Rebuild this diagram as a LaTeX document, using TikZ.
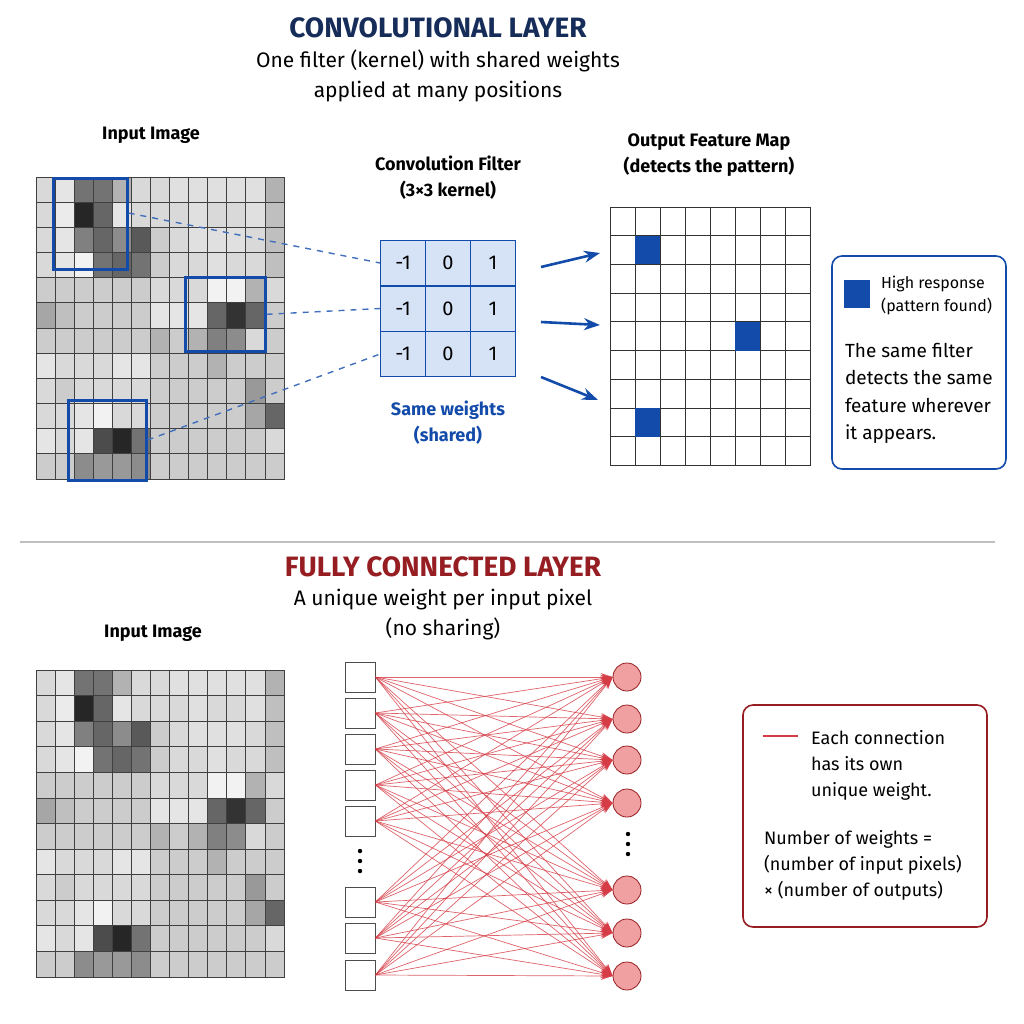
\documentclass[tikz,border=0pt]{standalone}
\usepackage{fontspec}
\setmainfont{Fira Sans}
\usetikzlibrary{arrows.meta,positioning}
\definecolor{navy}{RGB}{22,45,90}
\definecolor{kblue}{RGB}{18,75,170}
\definecolor{klight}{RGB}{214,226,245}
\definecolor{dred}{RGB}{150,30,35}
\definecolor{lred}{RGB}{214,60,70}
\definecolor{pinkfill}{RGB}{240,160,160}
\def\pixvals{{15,10,55,55,30,15,15,12,12,12,12,12,30},{15,8,85,60,10,15,15,15,12,15,15,12,25},{15,10,50,60,45,65,20,15,12,12,12,15,25},{15,10,5,55,60,55,20,15,15,12,15,15,25},{20,20,20,20,20,20,15,15,15,5,5,30,15},{35,25,20,20,20,20,10,10,10,60,80,60,20},{20,20,20,20,20,20,30,20,30,50,45,15,20},{10,15,15,15,10,10,20,20,20,30,20,20,20},{15,20,15,15,15,15,20,20,20,20,20,40,20},{15,15,10,5,15,15,20,20,20,20,20,35,60},{10,15,10,70,85,55,20,20,20,20,20,20,15},{20,20,45,40,40,45,20,20,20,20,20,20,20}}
% Syntax: \pixelgrid{x0}{y0}{cell width}{cell height}
\newcommand\pixelgrid[4]{%
  \foreach \row [count=\r from 0] in \pixvals {
    \foreach \v [count=\c from 0] in \row
      \draw[black!75,line width=0.4pt,fill=black!\v!white]
        ({#1+\c*#3},{#2+\r*#4}) rectangle ++(#3,#4);
  }}
\tikzset{
  title/.style={font=\bfseries\fontsize{14}{16}\selectfont},
  sub/.style={font=\fontsize{10.5}{15}\selectfont,align=center},
  lab/.style={font=\bfseries\fontsize{9}{13}\selectfont,align=center},
  hl/.style={draw=kblue,line width=1.3pt,anchor=north west,inner sep=0pt},
  link/.style={kblue!80,dashed,line width=0.7pt},
  kcell/.style={draw=kblue,fill=klight,minimum size=22.5pt,inner sep=0pt,font=\fontsize{10}{12}\selectfont},
  fc/.style={lred,line width=0.35pt,opacity=0.8,-{Stealth[length=6pt,width=4pt]}},
  inbox/.style={draw=black!70,fill=white,minimum size=15pt,inner sep=0pt},
  neuron/.style={circle,draw=dred,fill=pinkfill,minimum size=14pt,inner sep=0pt},
  vdots/.style={fill=black,circle,inner sep=0pt,minimum size=2.2pt},
}
\begin{document}
\begin{tikzpicture}[x=0.5pt,y=-0.5pt]
  \useasboundingbox[fill=white] (0,0) rectangle (1024,1024);

  % ---- convolutional part
  \node[title,text=navy] (ctitle) at (438,28) {CONVOLUTIONAL LAYER};
  \node[sub] (csub) at (438,76) {One filter (kernel) with shared weights\\applied at many positions};
  \node[lab] (cin) at (151,135) {Input Image};
  \pixelgrid{36}{177}{19.08}{25.17}
  \node[hl,minimum width=37pt,minimum height=45.5pt] (b1) at (52,177) {};
  \node[hl,minimum width=40pt,minimum height=37pt] (b2) at (184,276) {};
  \node[hl,minimum width=39pt,minimum height=40pt] (b3) at (67,399) {};

  \node[lab] (ktitle) at (448,178) {Convolution Filter\\(3×3 kernel)};
  \foreach \r [count=\i] in {-1,-1,-1}
    \foreach \val [count=\j] in {-1,0,1}
      \node[kcell] (k\i\j) at ({403+(\j-1)*45},{263+(\i-1)*45.5}) {\val};
  \node[lab,text=kblue] (kshared) at (448,423) {Same weights\\(shared)};
  \draw[link] (b1.east |- 0,213) -- (k11.west);
  \draw[link] (b2.east) -- (k21.west);
  \draw[link] (b3.east |- 0,440) -- (k31.west);

  \node[lab] (otitle) at (709,155) {Output Feature Map\\(detects the pattern)};
  \foreach \c in {0,...,7}
    \foreach \r in {0,...,8}
      \draw[black!80,line width=0.4pt] ({610+\c*25},{207+\r*28.7}) rectangle ++(25,28.7);
  \foreach \c/\r in {1/1,5/4,1/7}
    \fill[kblue] ({610+\c*25},{207+\r*28.7}) rectangle ++(25,28.7);
  \coordinate (s1) at (541,267);
  \coordinate (s2) at (541,322);
  \coordinate (s3) at (541,377);
  \coordinate (o1) at (600,253);
  \coordinate (o2) at (600,325);
  \coordinate (o3) at (598,400);
  \foreach \i in {1,2,3}
    \draw[kblue,line width=1.3pt,-{Stealth[length=8pt]}] (s\i) -- (o\i);

  \draw[kblue,line width=0.8pt,rounded corners=5pt] (832,256) rectangle (1006,469);
  \fill[kblue] (844,280) rectangle (870,308);
  \node[anchor=west,align=left,font=\fontsize{8}{11.5}\selectfont] (hresp) at (874,295) {High response\\(pattern found)};
  \node[anchor=north west,align=left,font=\fontsize{9.5}{13.7}\selectfont] (same) at (838,336) {The same filter\\detects the same\\feature wherever\\it appears.};

  \draw[black!25,line width=0.8pt] (20,542) -- (995,542);

  % ---- fully connected part
  \node[title,text=dred] (ftitle) at (443,567) {FULLY CONNECTED LAYER};
  \node[sub] (fsub) at (443,615) {A unique weight per input pixel\\(no sharing)};
  \node[lab] (fin) at (153,633) {Input Image};
  \pixelgrid{36}{670}{19.08}{25.58}

  \foreach \y [count=\i] in {677,713,749,785,821,902,938,975}
    \node[inbox] (in\i) at (360,\y) {};
  \foreach \y [count=\j] in {677,719,760,803,890,933,976}
    \node[neuron] (out\j) at (627,\y) {};
  \foreach \i in {1,...,8}
    \foreach \j in {1,...,7}
      \draw[fc] (in\i.east) -- (out\j.west);
  \foreach \y in {851,861,871}
    \node[vdots] at (360,\y) {};
  \foreach \y in {834,844,854}
    \node[vdots] at (628,\y) {};

  \draw[dred,line width=0.8pt,rounded corners=5pt] (743,705) rectangle (987,927);
  \draw[lred,line width=1.2pt] (763,736) -- (798,736);
  \node[anchor=north west,align=left,font=\fontsize{9}{13}\selectfont] (each) at (804,723) {Each connection\\has its own\\unique weight.};
  \node[anchor=north west,align=left,font=\fontsize{9}{13}\selectfont] (nw) at (757,823) {Number of weights =\\(number of input pixels)\\× (number of outputs)};
\end{tikzpicture}
\end{document}
